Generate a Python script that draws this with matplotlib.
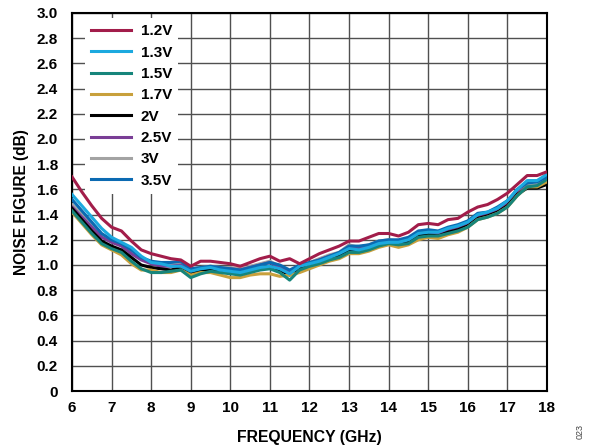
import numpy as np
import matplotlib
matplotlib.use('Agg')
import matplotlib.pyplot as plt

plt.rcParams['font.family'] = ['Liberation Sans', 'DejaVu Sans']
plt.rcParams['font.weight'] = 'bold'

# frequency points (GHz)
freq = np.arange(6.0, 18.01, 0.25)

nf_1v2 = [1.70, 1.58, 1.47, 1.37, 1.30, 1.27, 1.19, 1.12, 1.09, 1.07, 1.05, 1.04, 0.99,
          1.03, 1.03, 1.02, 1.01, 0.99, 1.02, 1.05, 1.07, 1.03, 1.05, 1.01, 1.05, 1.09,
          1.12, 1.15, 1.19, 1.19, 1.22, 1.25, 1.25, 1.23, 1.26, 1.32, 1.33, 1.32, 1.36,
          1.37, 1.42, 1.46, 1.48, 1.52, 1.57, 1.64, 1.71, 1.71, 1.74]
nf_1v3 = [1.56, 1.47, 1.38, 1.29, 1.22, 1.18, 1.14, 1.07, 1.02, 1.01, 0.99, 0.99, 0.95,
          0.97, 0.98, 0.96, 0.95, 0.94, 0.96, 0.98, 0.99, 0.97, 0.93, 0.99, 1.01, 1.03,
          1.06, 1.09, 1.13, 1.12, 1.14, 1.17, 1.18, 1.18, 1.20, 1.25, 1.26, 1.26, 1.29,
          1.31, 1.34, 1.40, 1.42, 1.45, 1.51, 1.60, 1.67, 1.67, 1.72]
nf_1v5 = [1.43, 1.34, 1.25, 1.17, 1.13, 1.10, 1.03, 0.97, 0.94, 0.94, 0.95, 0.96, 0.90,
          0.93, 0.95, 0.94, 0.93, 0.92, 0.94, 0.96, 0.97, 0.94, 0.88, 0.96, 0.99, 1.01,
          1.04, 1.06, 1.10, 1.10, 1.12, 1.15, 1.17, 1.16, 1.17, 1.22, 1.23, 1.23, 1.25,
          1.27, 1.30, 1.36, 1.38, 1.41, 1.46, 1.55, 1.62, 1.63, 1.68]
nf_1v7 = [1.42, 1.33, 1.24, 1.16, 1.12, 1.08, 1.01, 0.96, 0.96, 0.94, 0.94, 0.96, 0.92,
          0.94, 0.94, 0.92, 0.90, 0.90, 0.92, 0.93, 0.93, 0.91, 0.92, 0.94, 0.97, 1.00,
          1.03, 1.05, 1.09, 1.09, 1.11, 1.14, 1.16, 1.14, 1.16, 1.20, 1.22, 1.21, 1.24,
          1.26, 1.30, 1.36, 1.38, 1.41, 1.46, 1.55, 1.62, 1.62, 1.66]
nf_2v = [1.45, 1.36, 1.27, 1.19, 1.15, 1.12, 1.06, 1.00, 0.98, 0.97, 0.96, 0.98, 0.94,
         0.95, 0.96, 0.95, 0.95, 0.94, 0.96, 0.98, 0.99, 0.96, 0.92, 0.97, 0.99, 1.02,
         1.05, 1.07, 1.12, 1.11, 1.13, 1.16, 1.17, 1.16, 1.18, 1.23, 1.24, 1.23, 1.26,
         1.28, 1.31, 1.37, 1.39, 1.42, 1.47, 1.56, 1.61, 1.61, 1.64]
nf_2v5 = [1.46, 1.38, 1.30, 1.22, 1.18, 1.15, 1.09, 1.04, 1.01, 0.99, 0.99, 1.00, 0.96,
          0.97, 0.98, 0.97, 0.97, 0.96, 0.98, 1.00, 1.02, 0.98, 0.95, 0.99, 1.01, 1.04,
          1.07, 1.09, 1.14, 1.13, 1.15, 1.18, 1.19, 1.18, 1.20, 1.25, 1.26, 1.25, 1.28,
          1.30, 1.33, 1.38, 1.40, 1.43, 1.48, 1.57, 1.62, 1.62, 1.66]
nf_3v = [1.48, 1.40, 1.31, 1.23, 1.19, 1.16, 1.10, 1.05, 1.02, 1.01, 1.00, 1.02, 0.97,
         0.98, 0.99, 0.98, 0.98, 0.97, 0.99, 1.01, 1.03, 0.99, 0.95, 1.00, 1.02, 1.05,
         1.08, 1.10, 1.16, 1.14, 1.16, 1.19, 1.20, 1.19, 1.21, 1.26, 1.27, 1.26, 1.29,
         1.31, 1.34, 1.39, 1.41, 1.44, 1.49, 1.58, 1.63, 1.64, 1.67]
nf_3v5 = [1.52, 1.43, 1.34, 1.25, 1.20, 1.17, 1.12, 1.06, 1.03, 1.02, 1.02, 1.03, 0.97,
          0.98, 0.99, 0.98, 0.97, 0.96, 0.98, 1.00, 1.02, 1.00, 0.96, 1.00, 1.02, 1.04,
          1.07, 1.10, 1.15, 1.15, 1.16, 1.19, 1.20, 1.20, 1.22, 1.27, 1.28, 1.27, 1.30,
          1.32, 1.35, 1.41, 1.42, 1.46, 1.51, 1.60, 1.65, 1.66, 1.70]

labels = ['1.2V', '1.3V', '1.5V', '1.7V', '2V', '2.5V', '3V', '3.5V']
series = [nf_1v2, nf_1v3, nf_1v5, nf_1v7, nf_2v, nf_2v5, nf_3v, nf_3v5]
colors = ['#A21D4A', '#1CA9DF', '#16857B', '#C8A03C', '#000000', '#7A3E96', '#A3A3A3', '#0B6AB2']

fig = plt.figure(figsize=(5.91, 4.46), dpi=100)
ax = fig.add_axes([0.1218, 0.1233, 0.8037, 0.8476])

# draw back-to-front so the top curve sits on top like the reference
order = [6, 5, 4, 3, 2, 7, 1, 0]
lines = {}
for i in order:
    ln, = ax.plot(freq, series[i], color=colors[i], lw=2.2, label=labels[i], zorder=3)
    lines[i] = ln

ax.set_xlim(6, 18)
ax.set_ylim(0, 3.0)
ax.set_xticks(range(6, 19))
ax.set_yticks(np.arange(0, 3.01, 0.2))
ax.set_yticklabels(['0'] + [f'{v:.1f}' for v in np.arange(0.2, 3.01, 0.2)])
ax.grid(True, color='#505050', lw=1.0, zorder=1)
ax.tick_params(length=0, labelsize=11)
ax.tick_params(axis='x', pad=7)
ax.tick_params(axis='y', pad=10)
for lbl in ax.get_xticklabels() + ax.get_yticklabels():
    lbl.set_fontweight('bold')
for sp in ax.spines.values():
    sp.set_linewidth(1.5)
    sp.set_color('black')

ax.set_xlabel('FREQUENCY (GHz)', fontsize=11.3, fontweight='bold', labelpad=11)
ax.set_ylabel('NOISE FIGURE (dB)', fontsize=11.2, fontweight='bold', labelpad=6)

leg = ax.legend([lines[i] for i in range(8)], labels, loc='upper left',
                bbox_to_anchor=(0.016, 1.0), frameon=True, framealpha=1.0,
                edgecolor='none', fancybox=False, fontsize=11, handlelength=2.6,
                labelspacing=0.48, handletextpad=0.65, borderpad=0.4,
                borderaxespad=0.35)
leg.set_zorder(5)
for t in leg.get_texts():
    t.set_fontweight('bold')

fig.text(0.982, 0.015, '023', rotation=90, fontsize=6.5, color='#444444',
         fontweight='normal', ha='center', va='bottom')

fig.savefig('out.png', dpi=100)
